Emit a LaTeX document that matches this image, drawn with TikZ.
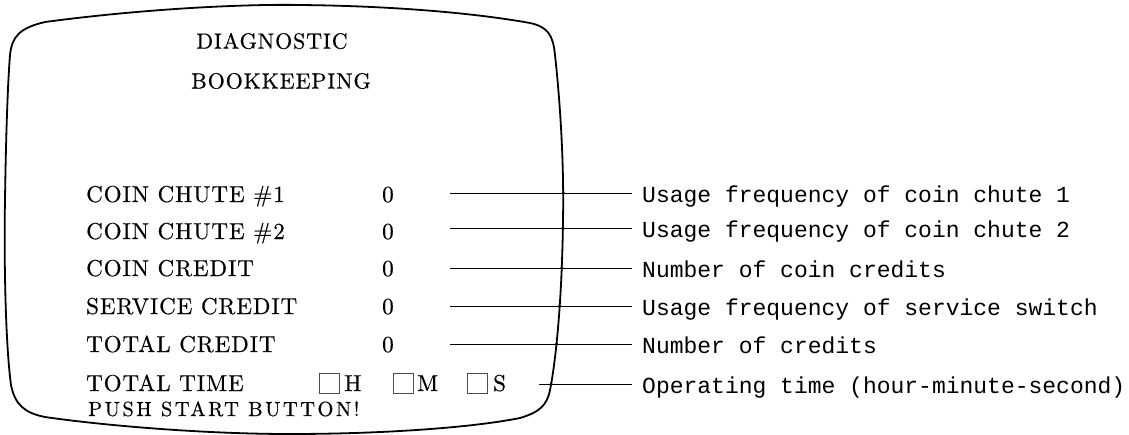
\documentclass[tikz,border=0pt]{standalone}
\usepackage{fontspec}
\newfontfamily\labfont{Liberation Mono}
\newfontfamily\scrfont[Extension=.otf,LetterSpace=4,FakeBold=0.5]{lmroman10-regular}
\newfontfamily\ttlfont[Extension=.otf,LetterSpace=4,FakeBold=0.5]{lmroman10-regular}
\newfontfamily\pushfont[Extension=.otf,LetterSpace=12,FakeBold=0.5]{lmroman10-regular}
\usetikzlibrary{intersections}
\begin{document}
\begin{tikzpicture}[x=1pt,y=-1pt,
  scr/.style={font=\scrfont\fontsize{23}{27}\selectfont, inner sep=0pt, anchor=base west},
  pushtxt/.style={font=\pushfont\fontsize{20.5}{24}\selectfont, inner sep=0pt, anchor=base west},
  ttl/.style={font=\ttlfont\fontsize{22}{26}\selectfont, inner sep=0pt},
  lab/.style={font=\labfont\fontsize{23}{27}\selectfont, inner ysep=0pt, inner xsep=10pt, anchor=base west},
  lead/.style={line width=0.9pt},
  frame/.style={line width=1.8pt, line join=round},
  tbox/.style={draw=black!70, line width=0.6pt, minimum width=20pt, minimum height=20pt, inner sep=0pt},
  xdot/.style={fill=black}]
\useasboundingbox (0,0) rectangle (1129,434);

% screen outline
\draw[frame, name path=frame]
  (45,22) .. controls (150,8) and (250,4) .. (300,5)
  .. controls (400,6) and (480,14) .. (530,23)
  .. controls (548,27) and (553,35) .. (555,55)
  .. controls (561,110) and (564,170) .. (563,220)
  .. controls (562,300) and (556,360) .. (550,390)
  .. controls (547,405) and (540,412) .. (520,418)
  .. controls (470,428) and (380,434) .. (290,434)
  .. controls (200,434) and (100,425) .. (45,417)
  .. controls (25,413) and (15,405) .. (11,385)
  .. controls (5,340) and (4,250) .. (5,200)
  .. controls (6,130) and (8,80) .. (10,55)
  .. controls (12,36) and (20,28) .. (45,22) -- cycle;

% title
\node[ttl] (t1) at (272,41) {DIAGNOSTIC};
\node[ttl] (t2) at (281,81) {BOOKKEEPING};

% rows
\node[scr] (r1) at (86,202) {COIN CHUTE \#1};
\node[scr] (r2) at (86,239) {COIN CHUTE \#2};
\node[scr] (r3) at (86,276) {COIN CREDIT};
\node[scr] (r4) at (86,314) {SERVICE CREDIT};
\node[scr] (r5) at (86,352) {TOTAL CREDIT};
\node[scr] (r6) at (86,391) {TOTAL TIME};
\node[pushtxt] (push) at (88,416) {PUSH START BUTTON!};

\node[scr] (v1) at (382,202) {0};
\node[scr] (v2) at (382,239) {0};
\node[scr] (v3) at (382,276) {0};
\node[scr] (v4) at (382,314) {0};
\node[scr] (v5) at (382,352) {0};

\node[tbox] (bh) at (329.5,383) {};
\node[scr] (th) at (344,391) {H};
\node[tbox] (bm) at (403,383) {};
\node[scr] (tm) at (417,391) {M};
\node[tbox] (bs) at (477.5,383) {};
\node[scr] (ts) at (493,391) {S};

% labels
\node[lab] (l1) at (632,202) {Usage frequency of coin chute 1};
\node[lab] (l2) at (632,237) {Usage frequency of coin chute 2};
\node[lab] (l3) at (632,277) {Number of coin credits};
\node[lab] (l4) at (632,315) {Usage frequency of service switch};
\node[lab] (l5) at (632,353) {Number of credits};
\node[lab] (l6) at (632,393) {Operating time (hour-minute-second)};

% leader start points
\coordinate (s1) at (450,193);
\coordinate (s2) at (450,228);
\coordinate (s3) at (450,268);
\coordinate (s4) at (450,306);
\coordinate (s5) at (450,344);
\coordinate (s6) at (539,384);

\foreach \i in {1,...,6}{
  \draw[lead, name path=ld\i] (s\i) -- (s\i -| l\i.west);
  \path[name intersections={of=frame and ld\i, by={x\i}}];
  \fill[xdot] (x\i) circle (1.6pt);
}
\end{tikzpicture}
\end{document}
